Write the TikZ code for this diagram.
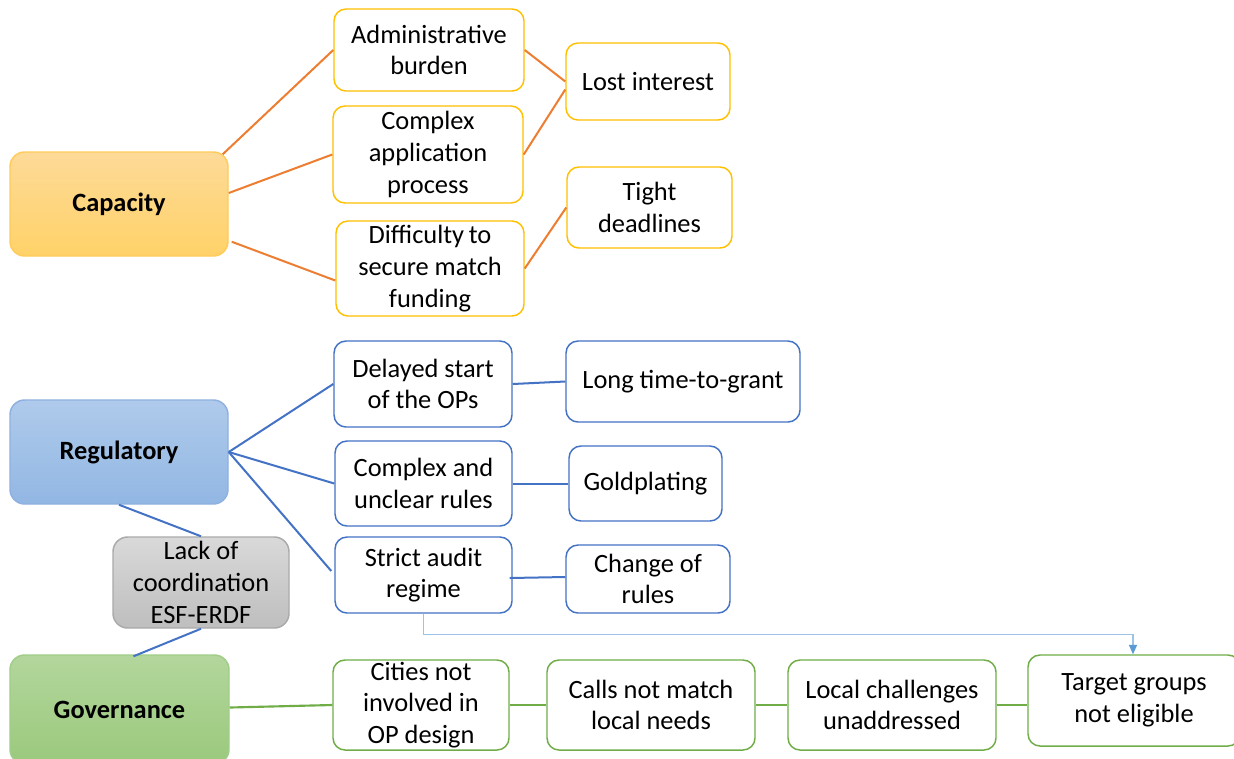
\documentclass[tikz,border=0pt]{standalone}
\usepackage{fontspec}
\setmainfont{Carlito}
\usetikzlibrary{arrows.meta,calc}
\definecolor{lorange}{HTML}{ED7D31}
\definecolor{lgold}{HTML}{FFC000}
\definecolor{lblue}{HTML}{4472C4}
\definecolor{lgreen}{HTML}{70AD47}
\definecolor{arrline}{HTML}{9DC3E6}
\definecolor{arrhead}{HTML}{5B9BD5}
\newcommand\bx[7]{\node[#6, minimum width={(#4-#2)*0.75pt}, minimum height={(#5-#3)*0.75pt}] (#1) at ({(#2+#4)/2},{(#3+#5)/2}) {#7};}
\begin{document}
\begin{tikzpicture}[x=0.75pt,y=-0.75pt,
  base/.style={rectangle, rounded corners=9pt, inner sep=0pt, align=center, line width=1.1pt,
     font=\fontsize{19.8}{23.8}\selectfont, text=black},
  capbox/.style={base, rounded corners=11pt, draw={rgb,255:red,255;green,204;blue,90}, top color={rgb,255:red,253;green,218;blue,152}, bottom color={rgb,255:red,255;green,210;blue,104}, font=\fontsize{19.8}{23.8}\selectfont\bfseries},
  regbox/.style={base, rounded corners=11pt, draw={rgb,255:red,143;green,176;blue,224}, top color={rgb,255:red,175;green,202;blue,235}, bottom color={rgb,255:red,146;green,183;blue,227}, font=\fontsize{19.8}{23.8}\selectfont\bfseries},
  govbox/.style={base, rounded corners=11pt, draw={rgb,255:red,160;green,205;blue,135}, top color={rgb,255:red,179;green,214;blue,156}, bottom color={rgb,255:red,154;green,201;blue,124}, font=\fontsize{19.8}{23.8}\selectfont\bfseries},
  graybox/.style={base, rounded corners=11pt, draw={rgb,255:red,170;green,170;blue,170}, top color={rgb,255:red,217;green,217;blue,217}, bottom color={rgb,255:red,190;green,190;blue,190}},
  obox/.style={base, draw=lgold, fill=white},
  bbox/.style={base, draw=lblue, fill=white},
  gbox/.style={base, draw=lgreen, fill=white},
  oline/.style={draw=lorange, line width=1.5pt},
  bline/.style={draw=lblue, line width=1.5pt},
  gline/.style={draw=lgreen, line width=1.6pt},
  arrline/.style={draw=arrline, line width=1pt, -{Triangle[length=7pt,width=6pt,fill=arrhead,color=arrhead]}}
]
\useasboundingbox (0,0) rectangle (1234,758);
\clip (0,0) rectangle (1234,758);
\fill[white] (0,0) rectangle (1234,758);

% main boxes
\bx{cap}{10}{152}{228}{256}{capbox}{Capacity}
\bx{reg}{10}{400}{228}{504}{regbox}{Regulatory}
\bx{gov}{10}{655}{229}{764}{govbox}{Governance}
\bx{lack}{113}{537}{289}{628}{graybox}{Lack of\\coordination\\ESF-ERDF}

% capacity branch
\bx{adm}{334}{9}{524}{91}{obox}{Administrative\\burden}
\bx{cpx}{333}{106}{523}{203}{obox}{Complex\\application\\process}
\bx{dif}{336}{221}{524}{316}{obox}{Difficulty\kern-1pt\ to\\secure match\\funding}
\bx{lost}{566}{43}{730}{120}{obox}{Lost interest}
\bx{tight}{567}{167}{732}{248}{obox}{Tight\\deadlines}

% regulatory branch
\bx{del}{334}{341}{512}{427}{bbox}{Delayed start\\of the OPs}
\bx{long}{566}{341}{800}{422}{bbox}{Long time-to-grant}
\bx{cur}{335}{441}{512}{526}{bbox}{Complex and\\unclear rules}
\bx{gold}{569}{446}{722}{521}{bbox}{Goldplating}
\bx{strict}{335}{537}{512}{613}{bbox}{Strict audit\\regime}
\bx{chg}{566}{545}{730}{613}{bbox}{Change of\\rules}

% governance branch
\bx{cit}{333}{660}{509}{750}{gbox}{Cities not\\involved in\\OP design}
\bx{calls}{547}{660}{755}{750}{gbox}{Calls not match\\local needs}
\bx{loc}{788}{660}{996}{750}{gbox}{Local challenges\\unaddressed}
\bx{tgt}{1028}{655}{1240}{746}{gbox}{Target groups\\not eligible}

% orange connectors
\draw[oline] ($(cap.north east)+(-6,3)$) -- (adm.west);
\draw[oline] ($(cap.east)+(0,-11)$) -- (cpx.west);
\draw[oline] ($(cap.south east)+(3,-15)$) -- ($(dif.west)+(0,12)$);
\draw[oline] (adm.east) -- (lost.west);
\draw[oline] (cpx.east) -- ($(lost.west)+(0,8)$);
\draw[oline] (dif.east) -- (tight.west);

% blue connectors
\draw[bline] (reg.east) -- (del.west);
\draw[bline] (reg.east) -- (cur.west);
\draw[bline] (reg.east) -- ($(strict.west)+(-3,-4)$);
\draw[bline] (del.east) -- (long.west);
\draw[bline] (cur.east) -- (gold.west);
\draw[bline] ($(strict.east)+(-3,3)$) -- ($(chg.west)+(0,-2)$);
\draw[bline] (reg.south) -- (lack.north);
\draw[bline] (lack.south) -- ($(gov.north)+(14,2)$);

% green connectors
\draw[gline] ($(gov.east)+(0,-2)$) -- (cit.west);
\draw[gline] (cit.east) -- (calls.west);
\draw[gline] (calls.east) -- (loc.west);
\draw[gline] (loc.east) -- ($(tgt.west)+(0,4.5)$);

% arrow
\draw[arrline] (strict.south) -- ++(0,21) -| ($(tgt.north)+(-1,0)$);
\end{tikzpicture}
\end{document}
